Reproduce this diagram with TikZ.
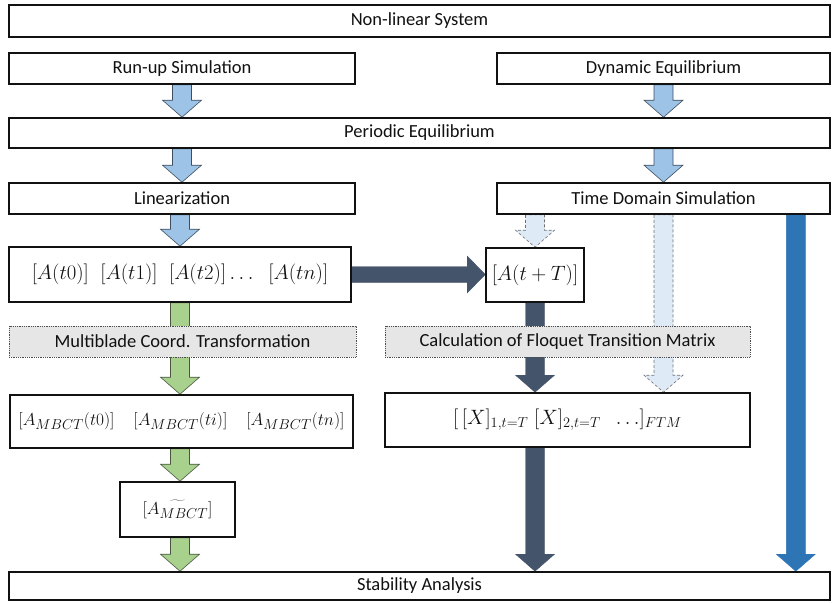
\documentclass[tikz,border=0pt]{standalone}
\usepackage{fontspec}
\setmainfont{Carlito}
\usetikzlibrary{calc,backgrounds}
\definecolor{FlowInk}{HTML}{111111}
\definecolor{FlowSky}{HTML}{9DC3E6}
\definecolor{FlowSkyLine}{HTML}{3F4E5E}
\definecolor{FlowGreen}{HTML}{A9D18E}
\definecolor{FlowGreenLine}{HTML}{4A5740}
\definecolor{FlowNavy}{HTML}{44546A}
\definecolor{FlowBlue}{HTML}{2E75B6}
\definecolor{FlowPale}{HTML}{DEEBF7}
\definecolor{FlowGrey}{HTML}{E7E6E6}
% fat vertical arrow: start point, tip point
\newcommand\blockdown[3][]{%
  \draw[#1] let \p1=(#2), \p2=(#3) in
    (\x1-9.5pt,\y1) -- (\x1-9.5pt,\y2+17pt) -- (\x1-19.5pt,\y2+17pt) -- (\x1,\y2)
    -- (\x1+19.5pt,\y2+17pt) -- (\x1+9.5pt,\y2+17pt) -- (\x1+9.5pt,\y1) -- cycle;}
% fat horizontal arrow
\newcommand\blockright[3][]{%
  \draw[#1] let \p1=(#2), \p2=(#3) in
    (\x1,\y1+8pt) -- (\x2-18pt,\y1+8pt) -- (\x2-18pt,\y1+18.5pt) -- (\x2,\y1)
    -- (\x2-18pt,\y1-18.5pt) -- (\x2-18pt,\y1-8pt) -- (\x1,\y1-8pt) -- cycle;}

\begin{document}
\begin{tikzpicture}[
  x=1pt,y=-1pt,
  box/.style={draw=FlowInk,line width=1.6pt,fill=white,inner sep=0pt,text=FlowInk,
    font=\fontsize{18.5}{21}\selectfont},
  mathbox/.style={box,font=\fontsize{19}{22}\selectfont},
  bigmathbox/.style={box,font=\fontsize{20.5}{24}\selectfont},
  opbox/.style={draw=FlowInk!75,densely dotted,line width=0.8pt,fill=FlowGrey,inner sep=0pt,
    text=FlowInk,font=\fontsize{18.5}{21}\selectfont},
  skyarrow/.style={fill=FlowSky,draw=FlowSkyLine,line width=0.6pt},
  greenarrow/.style={fill=FlowGreen,draw=FlowGreenLine,line width=0.6pt},
  navyarrow/.style={fill=FlowNavy,draw=FlowNavy,line width=0.4pt},
  bluearrow/.style={fill=FlowBlue,draw=FlowBlue,line width=0.4pt},
  palearrow/.style={fill=FlowPale,draw=FlowInk!60,densely dashed,line width=0.6pt}
]
\useasboundingbox (0,0) rectangle (832,602);
% boxes
\node[box,minimum width=821,minimum height=32] (nls) at (419.5,21) {Non-linear System};
\node[box,minimum width=346,minimum height=31] (run) at (182,68.5) {Run-up Simulation};
\node[box,minimum width=333,minimum height=31] (dyn) at (663.5,68.5) {Dynamic Equilibrium};
\node[box,minimum width=821,minimum height=30] (pe) at (419.5,133) {Periodic Equilibrium};
\node[box,minimum width=346,minimum height=31] (lin) at (182,198.5) {Linearization};
\node[box,minimum width=333,minimum height=31] (tds) at (663.5,198.5) {Time Domain Simulation};
\node[bigmathbox,minimum width=342,minimum height=55] (at) at (180,274.5)
  {$[A(t0)]\;\;[A(t1)]\;\;[A(t2)]\ldots\;\;[A(tn)]$};
\node[bigmathbox,minimum width=98,minimum height=54] (att) at (535,275) {$[A(t+T)]$};
\node[opbox,minimum width=347,minimum height=31] (mbt) at (182.5,341.5) {Multiblade Coord. Transformation};
\node[opbox,minimum width=365,minimum height=31] (cft) at (567.5,341.5) {Calculation of Floquet Transition Matrix};
\node[mathbox,minimum width=343,minimum height=53] (amb) at (181.5,421.5)
  {$[A_{MBCT}(t0)]\quad[A_{MBCT}(ti)]\quad[A_{MBCT}(tn)]$};
\node[bigmathbox,minimum width=365,minimum height=54] (ftm) at (567.5,420)
  {$[\,[X]_{1,t=T}\;[X]_{2,t=T}\;\;\ldots]_{FTM}$};
\node[mathbox,minimum width=115,minimum height=55] (til) at (177.5,509.5) {$[\widetilde{A_{MBCT}}]$};
\node[box,minimum width=821,minimum height=28] (sa) at (419.5,586) {Stability Analysis};
\coordinate (simtop) at ($(tds.south east)+(-35,0)$);
% connectors
\begin{scope}[on background layer]
\blockdown[skyarrow]{run.south}{run.south |- pe.north}
\blockdown[skyarrow]{dyn.south}{dyn.south |- pe.north}
\blockdown[skyarrow]{lin.north |- pe.south}{lin.north}
\blockdown[skyarrow]{tds.north |- pe.south}{tds.north}
\blockdown[skyarrow]{at.north |- lin.south}{at.north}
\blockdown[greenarrow]{at.south}{amb.north}
\blockdown[greenarrow]{at.south |- amb.south}{at.south |- til.north}
\blockdown[greenarrow]{at.south |- til.south}{at.south |- sa.north}
\blockright[navyarrow]{at.east}{att.west}
\blockdown[palearrow]{att.north |- tds.south}{att.north}
\blockdown[palearrow]{tds.south}{tds.south |- ftm.north}
\blockdown[navyarrow]{att.south}{att.south |- ftm.north}
\blockdown[navyarrow]{att.south |- ftm.south}{att.south |- sa.north}
\blockdown[bluearrow]{simtop}{simtop |- sa.north}
\end{scope}
\end{tikzpicture}
\end{document}
